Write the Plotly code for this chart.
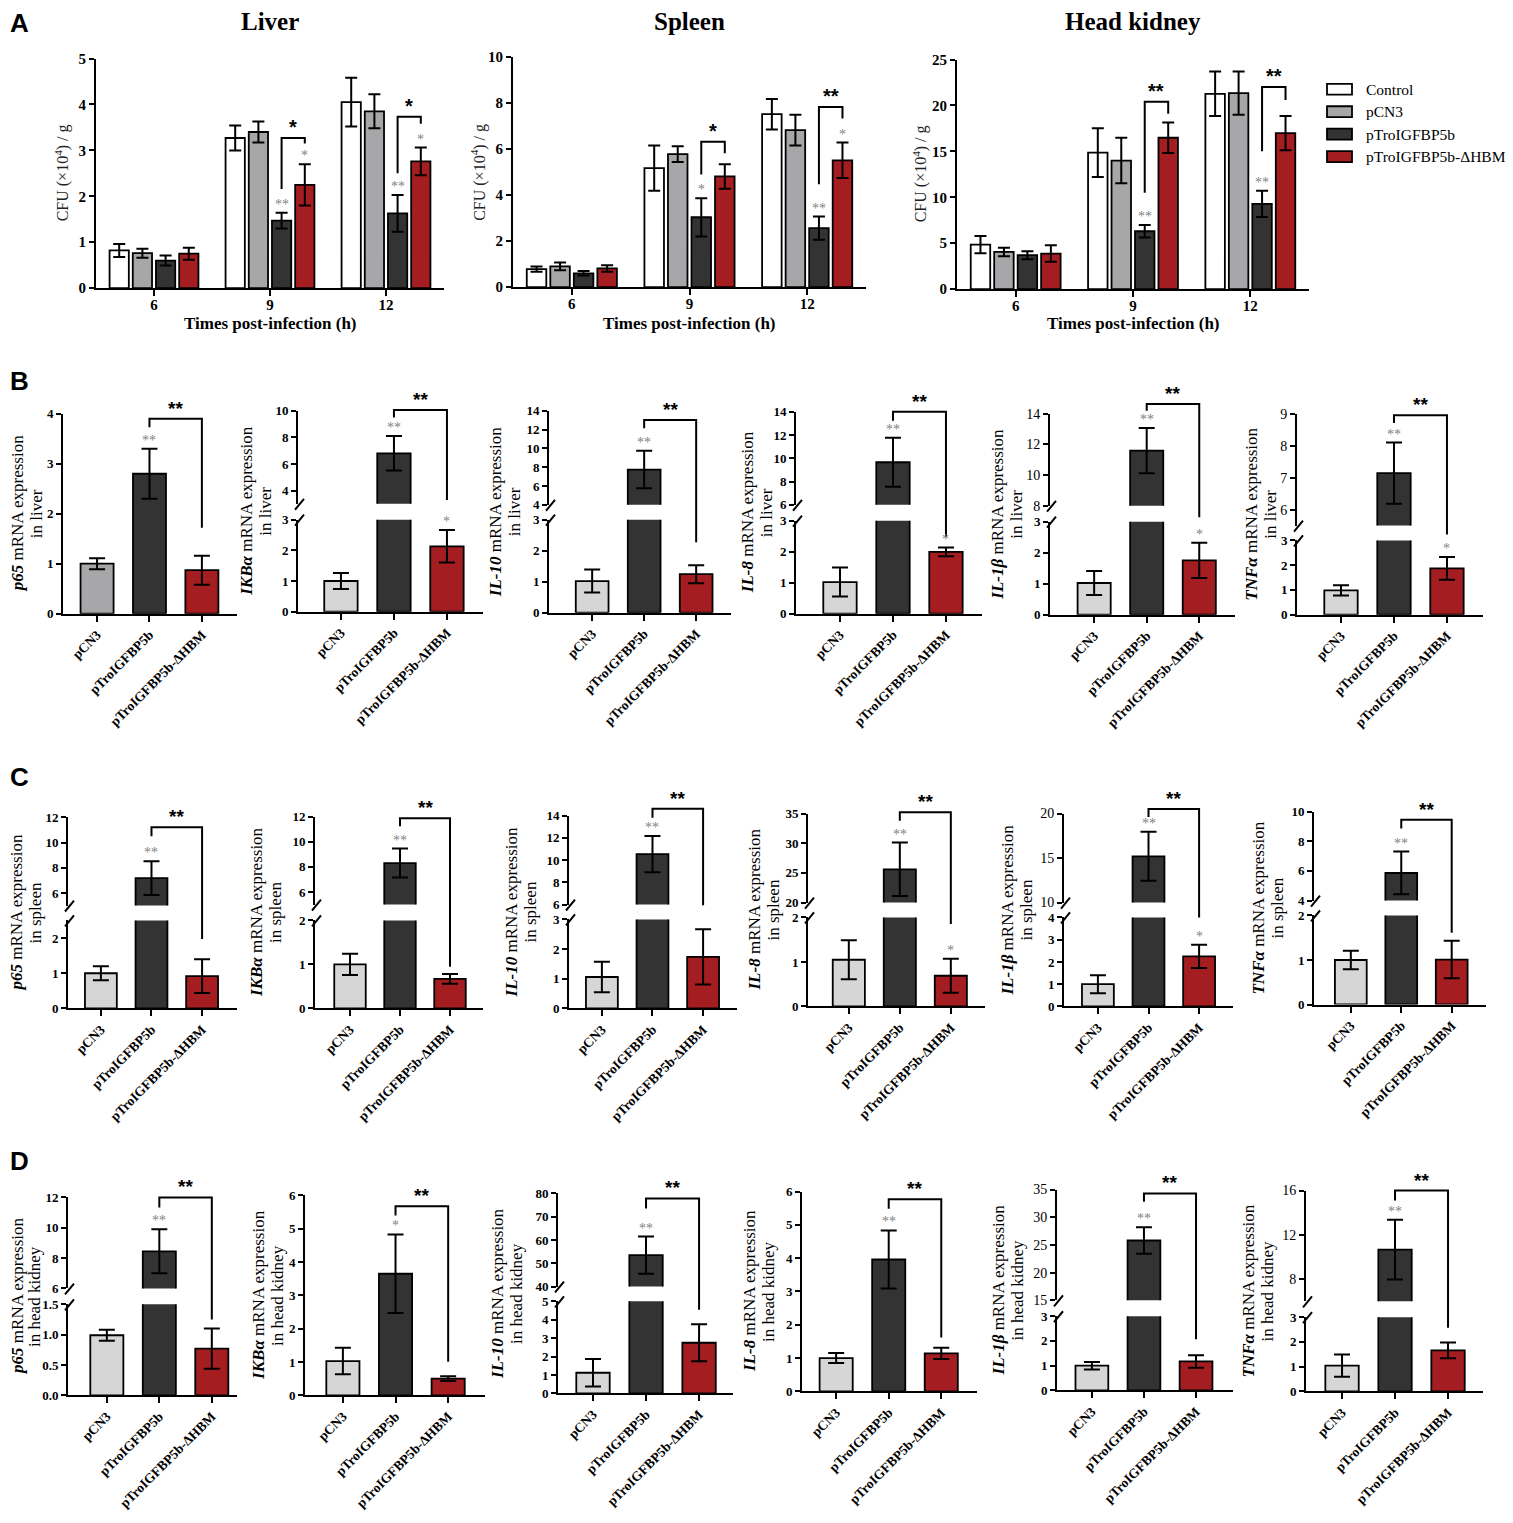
import plotly.graph_objects as go

# Figure: IGFBP5b overexpression - bacterial load (A) and immune gene expression (B-D)

W, H = 1513, 1523
OFF = 8   # page body margin, the figure is drawn 8 px in from the corner
SERIF = "Liberation Serif"
SANS = "Liberation Sans"

WHITE, MID_GRAY, LIGHT_GRAY = "#ffffff", "#a7a7a9", "#d6d6d6"
DARK, RED = "#333333", "#a41d21"
STAR_GRAY = "#7f7f7f"

# --- Panel A data: CFU (x10^4) / g ---
hours = ["6", "9", "12"]
series = ["Control", "pCN3", "pTroIGFBP5b", "pTroIGFBP5b-ΔHBM"]
series_colors = [WHITE, MID_GRAY, DARK, RED]
organs = ["Liver", "Spleen", "Head kidney"]

liver_cfu = [[0.82, 3.27, 4.05], [0.76, 3.40, 3.85], [0.60, 1.47, 1.63], [0.75, 2.25, 2.76]]
liver_cfu_err = [[0.14, 0.27, 0.53], [0.10, 0.23, 0.37], [0.11, 0.17, 0.40], [0.13, 0.45, 0.30]]
spleen_cfu = [[0.78, 5.16, 7.50], [0.90, 5.77, 6.81], [0.60, 3.03, 2.56], [0.81, 4.80, 5.50]]
spleen_cfu_err = [[0.11, 0.98, 0.66], [0.17, 0.34, 0.67], [0.10, 0.83, 0.50], [0.14, 0.53, 0.77]]
kidney_cfu = [[4.84, 14.86, 21.27], [4.05, 14.00, 21.35], [3.69, 6.30, 9.28], [3.87, 16.48, 16.98]]
kidney_cfu_err = [[0.93, 2.65, 2.43], [0.46, 2.47, 2.35], [0.43, 0.68, 1.43], [0.90, 1.65, 1.86]]

liver_cfu_sig_tro = ["", "**", "**"]
liver_cfu_sig_hbm = ["", "*", "*"]
liver_cfu_sig_pair = ["", "*", "*"]
spleen_cfu_sig_tro = ["", "*", "**"]
spleen_cfu_sig_hbm = ["", "", "*"]
spleen_cfu_sig_pair = ["", "*", "**"]
kidney_cfu_sig_tro = ["", "**", "**"]
kidney_cfu_sig_hbm = ["", "", ""]
kidney_cfu_sig_pair = ["", "**", "**"]

# --- Panels B-D data: relative mRNA expression ---
groups = ["pCN3", "pTroIGFBP5b", "pTroIGFBP5b-ΔHBM"]
genes = ["p65", "IKBα", "IL-10", "IL-8", "IL-1β", "TNFα"]
tissues = ["liver", "spleen", "head kidney"]

liver_mean = [[1.00, 2.80, 0.87], [1.00, 6.80, 2.13], [1.02, 7.75, 1.24],
              [1.02, 9.66, 1.99], [1.02, 11.60, 1.75], [0.98, 7.14, 1.87]]
liver_err = [[0.11, 0.50, 0.29], [0.26, 1.30, 0.53], [0.37, 2.00, 0.29],
             [0.47, 2.10, 0.14], [0.39, 1.47, 0.57], [0.21, 0.96, 0.46]]
liver_sig_tro = ["**", "**", "**", "**", "**", "**"]
liver_sig_hbm = ["", "*", "", "*", "*", "*"]

spleen_mean = [[1.00, 7.18, 0.92], [1.00, 8.30, 0.67], [1.06, 10.53, 1.74],
               [1.05, 25.60, 0.69], [1.00, 15.20, 2.25], [1.00, 5.86, 1.01]]
spleen_err = [[0.20, 1.35, 0.48], [0.24, 1.15, 0.11], [0.51, 1.63, 0.93],
              [0.44, 4.50, 0.38], [0.40, 2.75, 0.52], [0.21, 1.44, 0.42]]
spleen_sig_tro = ["**", "**", "**", "**", "**", "**"]
spleen_sig_hbm = ["", "", "", "*", "*", ""]

kidney_mean = [[0.99, 8.45, 0.77], [1.03, 3.65, 0.50], [1.12, 53.5, 2.75],
               [1.00, 3.96, 1.14], [1.00, 25.80, 1.17], [1.04, 10.67, 1.66]]
kidney_err = [[0.09, 1.45, 0.33], [0.40, 1.18, 0.07], [0.75, 8.00, 1.00],
              [0.15, 0.87, 0.17], [0.15, 2.40, 0.25], [0.45, 2.70, 0.32]]
kidney_sig_tro = ["**", "*", "**", "**", "**", "**"]
kidney_sig_hbm = ["", "", "", "", "", ""]

pair_sig = "**"   # pTroIGFBP5b vs pTroIGFBP5b-ΔHBM, all B-D panels

# --- layout specs (pixel boxes in the 1513x1523 page) ---
# x: axis start/end px, xr: category range, low/up: (bottom px, top px, min, max, ticks)
# br: bracket (left end, top, right end) as (segment, value), tx: y-title centre px
a_specs = [
    dict(x=(96, 444), xr=(-0.5, 2.5), low=(283, 51, 0, 5, [0, 1, 2, 3, 4, 5]), ytx=62,
         br={1: (("l", 2.16), ("l", 3.27), ("l", 3.15)), 2: (("l", 2.50), ("l", 3.73), ("l", 3.58))}),
    dict(x=(513, 866), xr=(-0.5, 2.5), low=(282, 49, 0, 10, [0, 2, 4, 6, 8, 10]), ytx=479,
         br={1: (("l", 4.89), ("l", 6.31), ("l", 5.81)), 2: (("l", 4.46), ("l", 7.81), ("l", 7.31))}),
    dict(x=(957, 1309), xr=(-0.5, 2.5), low=(284, 52, 0, 25, [0, 5, 10, 15, 20, 25]), ytx=920,
         br={1: (("l", 10.5), ("l", 20.4), ("l", 19.1)), 2: (("l", 15.0), ("l", 22.0), ("l", 20.6))}),
]

row_specs = [
    [  # B: liver
        dict(x=(63, 237), xr=(-0.65, 2.67), tx=27, c0=MID_GRAY, low=(612, 410, 0, 4, [0, 1, 2, 3, 4]), up=None,
             br=(("l", 3.73), ("l", 3.90), ("l", 1.72))),
        dict(x=(298, 483), xr=(-0.81, 2.68), tx=256, low=(610, 517, 0, 3, [0, 1, 2, 3]),
             up=(501, 407, 3, 10, [4, 6, 8, 10]), br=(("u", 9.5), ("u", 10.07), ("u", 3.28))),
        dict(x=(549, 731), xr=(-0.83, 2.67), tx=505, low=(611, 517, 0, 3, [0, 1, 2, 3]),
             up=(502, 407, 4, 14, [4, 6, 8, 10, 12, 14]), br=(("u", 12.14), ("u", 13.02), ("l", 2.27))),
        dict(x=(796, 982), xr=(-0.83, 2.68), tx=757, low=(612, 518, 0, 3, [0, 1, 2, 3]),
             up=(502, 408, 6, 14, [6, 8, 10, 12, 14]), br=(("u", 13.23), ("u", 14.0), ("l", 2.47))),
        dict(x=(1050, 1235), xr=(-0.84, 2.68), tx=1007, low=(613, 519, 0, 3, [0, 1, 2, 3]),
             up=(503, 410, 8, 14, [8, 10, 12, 14]), ub=False, br=(("u", 14.2), ("u", 14.64), ("u", 7.25))),
        dict(x=(1297, 1483), xr=(-0.83, 2.68), tx=1261, low=(613, 538, 0, 3, [0, 1, 2, 3]),
             up=(523, 410, 5.5, 9, [6, 7, 8, 9]), ub=False, br=(("u", 8.71), ("u", 8.95), ("u", 5.22))),
    ],
    [  # C: spleen
        dict(x=(68, 237), xr=(-0.65, 2.69), tx=26, low=(1011, 922, 0, 2.5, [0, 1, 2]),
             up=(907, 818, 5, 12, [6, 8, 10, 12]), br=(("u", 10.5), ("u", 11.22), ("l", 1.97))),
        dict(x=(315, 483), xr=(-0.70, 2.66), tx=266, low=(1011, 922, 0, 2, [0, 1, 2]),
             up=(906, 817, 5, 12, [6, 8, 10, 12]), br=(("u", 11.22), ("u", 11.87), ("l", 0.95))),
        dict(x=(569, 737), xr=(-0.65, 2.67), tx=521, low=(1011, 921, 0, 3, [0, 1, 2, 3]),
             up=(906, 816, 6, 14, [6, 8, 10, 12, 14]), br=(("u", 13.8), ("u", 14.6), ("u", 5.94))),
        dict(x=(808, 985), xr=(-0.80, 2.67), tx=764, low=(1009, 919, 0, 2, [0, 1, 2]),
             up=(904, 814, 20, 35, [20, 25, 30, 35]), br=(("u", 33.8), ("u", 35.2), ("l", 1.85))),
        dict(x=(1064, 1233), xr=(-0.67, 2.67), tx=1017, low=(1009, 919, 0, 4, [0, 1, 2, 3, 4]),
             up=(904, 814, 10, 20, [10, 15, 20]), ub=False, br=(("u", 19.6), ("u", 20.5), ("l", 4.0))),
        dict(x=(1314, 1486), xr=(-0.73, 2.68), tx=1268, low=(1007, 917, 0, 2, [0, 1, 2]),
             up=(902, 812, 4, 10, [4, 6, 8, 10]), br=(("u", 8.86), ("u", 9.44), ("l", 1.61))),
    ],
    [  # D: head kidney
        dict(x=(68, 237), xr=(-0.74, 2.48), tx=26, ts=8.5, low=(1402, 1310, 0, 1.5, [0, 0.5, 1.0, 1.5]),
             fmt="{:.1f}", up=(1294, 1202, 6, 12, [6, 8, 10, 12]), br=(("u", 11.33), ("u", 12.0), ("l", 1.25))),
        dict(x=(305, 485), xr=(-0.72, 2.70), tx=268, low=(1402, 1200, 0, 6, [0, 1, 2, 3, 4, 5, 6]), up=None,
             br=(("l", 5.4), ("l", 5.68), ("l", 1.01))),
        dict(x=(558, 733), xr=(-0.66, 2.64), tx=507, low=(1400, 1307, 0, 5, [0, 1, 2, 3, 4, 5]),
             up=(1292, 1198, 40, 80, [40, 50, 60, 70, 80]), br=(("u", 73.6), ("u", 77.9), ("l", 4.55))),
        dict(x=(802, 977), xr=(-0.65, 2.68), tx=759, low=(1398, 1196, 0, 6, [0, 1, 2, 3, 4, 5, 6]), up=None,
             br=(("l", 5.48), ("l", 5.77), ("l", 1.62))),
        dict(x=(1057, 1233), xr=(-0.67, 2.71), tx=1008, low=(1397, 1322, 0, 3, [0, 1, 2, 3]),
             up=(1306, 1194, 15, 35, [15, 20, 25, 30, 35]), ub=False, br=(("u", 32.8), ("u", 34.3), ("l", 2.07))),
        dict(x=(1306, 1483), xr=(-0.68, 2.66), tx=1258, low=(1398, 1323, 0, 3, [0, 1, 2, 3]),
             up=(1307, 1195, 6, 16, [8, 12, 16]), ub=False, br=(("u", 15.1), ("u", 16.0), ("l", 2.57))),
    ],
]

# ---------- helpers ----------
fig = go.Figure()
lay = {}
shapes, annots = [], []
cnt = {"x": 0, "y": 0}


def new_axis(letter):
    cnt[letter] += 1
    n = cnt[letter]
    if n == 1:
        return letter, letter + "axis"
    return f"{letter}{n}", f"{letter}axis{n}"


def fx(px):
    return (px - OFF) / W


def fy(py):
    return 1 - (py - OFF) / H


def cat_px(sp, c):
    x0, x1 = sp["x"]
    lo, hi = sp["xr"]
    return x0 + (c - lo) / (hi - lo) * (x1 - x0)


def val_px(sp, seg, v):
    b, t, lo, hi = sp["low" if seg == "l" else "up"][:4]
    return b - (v - lo) / (hi - lo) * (b - t)


def axis_style(**kw):
    base = dict(showline=True, linewidth=2, linecolor="black", ticks="outside", ticklen=5,
                tickwidth=2, tickcolor="black", showgrid=False, zeroline=False, fixedrange=True)
    base.update(kw)
    return base


def paper_text(x, y, text, size, family=SERIF, color="black", **kw):
    d = dict(x=fx(x), y=fy(y), xref="paper", yref="paper", text=text, showarrow=False,
             xanchor="center", yanchor="middle", font=dict(family=family, size=size, color=color))
    d.update(kw)
    annots.append(d)


def bracket(sp, cl, cr, br, star, size=19):
    (sl, vl), (st, vt), (sr, vr) = br
    xl, xr_ = fx(cat_px(sp, cl)), fx(cat_px(sp, cr))
    yl, yt, yr = fy(val_px(sp, sl, vl)), fy(val_px(sp, st, vt)), fy(val_px(sp, sr, vr))
    shapes.append(dict(type="path", xref="paper", yref="paper",
                       path=f"M{xl},{yl} L{xl},{yt} L{xr_},{yt} L{xr_},{yr}",
                       line=dict(color="black", width=2)))
    annots.append(dict(x=(xl + xr_) / 2, y=yt, xref="paper", yref="paper", text=f"<b>{star}</b>",
                       showarrow=False, xanchor="center", yanchor="bottom", yshift=-2,
                       font=dict(family=SANS, size=size, color="black")))


def gray_star(x, y, xid, yid, text):
    if text:
        annots.append(dict(x=x, y=y, xref=xid, yref=yid, text=text, showarrow=False,
                           xanchor="center", yanchor="bottom", yshift=-1,
                           font=dict(family=SERIF, size=14, color=STAR_GRAY)))


# ---------- Panel A ----------
cfu_mean = [liver_cfu, spleen_cfu, kidney_cfu]
cfu_err = [liver_cfu_err, spleen_cfu_err, kidney_cfu_err]
cfu_sig_tro = [liver_cfu_sig_tro, spleen_cfu_sig_tro, kidney_cfu_sig_tro]
cfu_sig_hbm = [liver_cfu_sig_hbm, spleen_cfu_sig_hbm, kidney_cfu_sig_hbm]
cfu_sig_pair = [liver_cfu_sig_pair, spleen_cfu_sig_pair, kidney_cfu_sig_pair]

for k, sp in enumerate(a_specs):
    xid, xkey = new_axis("x")
    yid, ykey = new_axis("y")
    for s in range(4):
        fig.add_trace(go.Bar(
            x=[0, 1, 2], y=cfu_mean[k][s], name=series[s], showlegend=False,
            error_y=dict(type="data", array=cfu_err[k][s], thickness=2, width=6, color="black"),
            marker=dict(color=series_colors[s], line=dict(color="black", width=1.8)),
            xaxis=xid, yaxis=yid))
    b, t, lo, hi, ticks = sp["low"]
    lay[xkey] = axis_style(domain=[fx(sp["x"][0]), fx(sp["x"][1])], range=list(sp["xr"]),
                           tickvals=[0, 1, 2], ticktext=[f"<b>{h}</b>" for h in hours], anchor=yid,
                           ticklen=6, ticklabelstandoff=-4,
                           tickfont=dict(family=SERIF, size=15, color="black"))
    lay[ykey] = axis_style(domain=[fy(b), fy(t)], range=[lo, hi], tickvals=ticks,
                           ticktext=[f"<b>{v}</b>" for v in ticks], anchor=xid,
                           tickfont=dict(family=SERIF, size=15, color="black"))
    xc = (sp["x"][0] + sp["x"][1]) / 2
    paper_text(xc, 14, f"<b>{organs[k]}</b>", 25)
    paper_text(xc, 319, "<b>Times post-infection (h)</b>", 17)
    paper_text(sp["ytx"], (b + t) / 2, "CFU (×10<sup>4</sup>) / g", 16, color="#222222", textangle=-90)
    for g in range(3):
        gray_star(g + 0.1, cfu_mean[k][2][g] + cfu_err[k][2][g], xid, yid, cfu_sig_tro[k][g])
        gray_star(g + 0.3, cfu_mean[k][3][g] + cfu_err[k][3][g], xid, yid, cfu_sig_hbm[k][g])
        if cfu_sig_pair[k][g]:
            bracket(sp, g + 0.1, g + 0.3, sp["br"][g], cfu_sig_pair[k][g], size=20)

# legend (drawn by hand)
for s, name in enumerate(series):
    yc = 82 + s * 22.7
    shapes.append(dict(type="rect", xref="paper", yref="paper", x0=fx(1327), x1=fx(1352),
                       y0=fy(yc + 5.5), y1=fy(yc - 5.5), fillcolor=series_colors[s],
                       line=dict(color="black", width=1.8)))
    paper_text(1364, yc, name, 15.5, xanchor="left")

# ---------- Panels B-D ----------
row_mean = [liver_mean, spleen_mean, kidney_mean]
row_err = [liver_err, spleen_err, kidney_err]
row_sig_tro = [liver_sig_tro, spleen_sig_tro, kidney_sig_tro]
row_sig_hbm = [liver_sig_hbm, spleen_sig_hbm, kidney_sig_hbm]

for r, specs in enumerate(row_specs):
    for j, sp in enumerate(specs):
        mean, err = row_mean[r][j], row_err[r][j]
        xid, xkey = new_axis("x")
        ylo_id, ylo_key = new_axis("y")
        seg_ids = {"l": ylo_id}
        fmt = sp.get("fmt", "{:g}")
        b, t, lo, hi, ticks = sp["low"]
        lay[xkey] = axis_style(domain=[fx(sp["x"][0]), fx(sp["x"][1])], range=list(sp["xr"]),
                               tickvals=[0, 1, 2], ticktext=[f"<b>{g}</b>" for g in groups],
                               tickangle=-45, ticklen=6, anchor=ylo_id,
                               tickfont=dict(family=SERIF, size=13.5, color="black"))
        lay[ylo_key] = axis_style(domain=[fy(b), fy(t)], range=[lo, hi], tickvals=ticks,
                                  ticktext=[f"<b>{fmt.format(v)}</b>" for v in ticks], anchor=xid,
                                  tickfont=dict(family=SERIF, size=13, color="black"))
        top_px = t
        if sp.get("up"):
            yup_id, yup_key = new_axis("y")
            seg_ids["u"] = yup_id
            ub, ut, ulo, uhi, uticks = sp["up"]
            bold = sp.get("ub", True)
            lay[yup_key] = axis_style(domain=[fy(ub), fy(ut)], range=[ulo, uhi], tickvals=uticks,
                                      ticktext=[(f"<b>{v:g}</b>" if bold else f"{v:g}") for v in uticks],
                                      anchor=xid, tickfont=dict(family=SERIF, size=13 if bold else 14,
                                                                color="black"))
            top_px = ut
            ax = sp["x"][0]
            for yb in (t, ub):
                shapes.append(dict(type="line", xref="paper", yref="paper",
                                   x0=fx(ax - 3), y0=fy(yb + 6), x1=fx(ax + 6), y1=fy(yb - 5),
                                   line=dict(color="black", width=2)))
        colors = [sp.get("c0", LIGHT_GRAY), DARK, RED]
        for seg, yid in seg_ids.items():
            fig.add_trace(go.Bar(
                x=[0, 1, 2], y=mean, width=0.63, showlegend=False,
                error_y=dict(type="data", array=err, thickness=2, width=8, color="black"),
                marker=dict(color=colors, line=dict(color="black", width=1.8)),
                xaxis=xid, yaxis=yid))

        def seg_of(v):
            return "u" if ("u" in seg_ids and v >= sp["up"][2]) else "l"

        gray_star(1, mean[1] + err[1], xid, seg_ids[seg_of(mean[1])], row_sig_tro[r][j])
        gray_star(2, mean[2] + err[2], xid, seg_ids[seg_of(mean[2])], row_sig_hbm[r][j])
        bracket(sp, 1, 2, sp["br"], pair_sig)

        ym = (b + top_px) / 2
        ts = sp.get("ts", 9.5)
        paper_text(sp["tx"] - ts, ym, f"<b><i>{genes[j]}</i></b> mRNA expression", 17, textangle=-90)
        paper_text(sp["tx"] + ts, ym, f"in {tissues[r]}", 17, textangle=-90)

# panel letters
for letter, yy in zip("ABCD", [15, 377, 777, 1165]):
    paper_text(19, yy, f"<b>{letter}</b>", 26, family=SANS)

fig.update_layout(
    width=W, height=H, margin=dict(l=0, r=0, t=0, b=0),
    paper_bgcolor="white", plot_bgcolor="white",
    barmode="group", bargap=0.2, bargroupgap=0.17,
    showlegend=False, font=dict(family=SERIF, color="black"),
    shapes=shapes, annotations=annots,
    **lay,
)

fig.write_html("out.html")
